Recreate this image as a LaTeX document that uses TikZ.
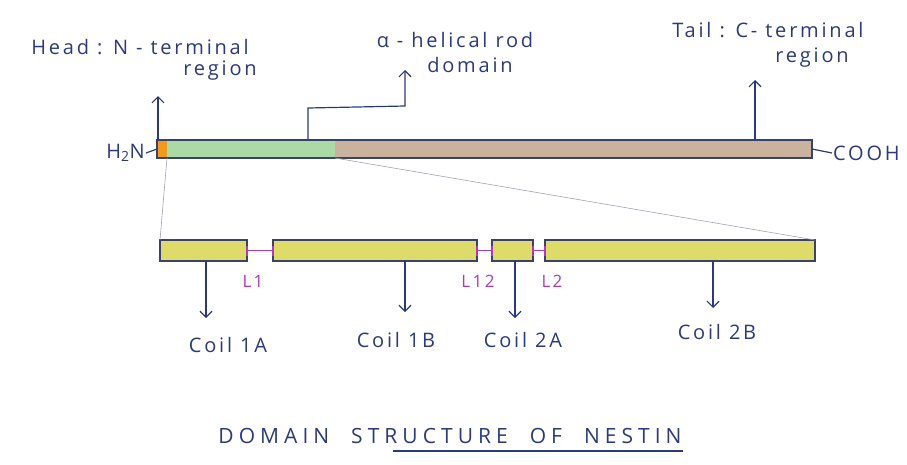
\documentclass[tikz,border=0pt]{standalone}
\usepackage{fontspec}
\setmainfont{Open Sans}
\usetikzlibrary{arrows.meta}

\definecolor{ink}{HTML}{2B3A7C}
\definecolor{edge}{HTML}{3A4268}
\definecolor{headc}{HTML}{F29A1E}
\definecolor{rodc}{HTML}{AADBA6}
\definecolor{tailc}{HTML}{C9B39E}
\definecolor{coilc}{HTML}{DDDC6A}
\definecolor{linkc}{HTML}{B03AB4}
\definecolor{zoomc}{HTML}{A0A4B4}

\newfontfamily\handfont[LetterSpace=14]{Open Sans}
\newfontfamily\titlefont[LetterSpace=24]{Open Sans}

\begin{document}
\begin{tikzpicture}[x=1pt,y=-1pt,
  seg/.style={inner sep=0pt,outer sep=0pt,anchor=north west,minimum height=18pt},
  outline/.style={draw=edge,line width=1.5pt,inner sep=0pt,outer sep=0pt,anchor=north west,minimum height=18pt},
  coil/.style={draw=edge,fill=coilc,line width=1.3pt,inner sep=0pt,outer sep=0pt,anchor=north west,minimum height=21pt},
  link/.style={draw=linkc,line width=1.3pt},
  hand/.style={text=ink,font=\handfont\fontsize{20}{23}\selectfont,inner sep=1pt},
  linklbl/.style={text=linkc,font=\handfont\fontsize{17}{19}\selectfont,inner sep=1pt},
  pointer/.style={draw=ink,line width=1.2pt,-{Straight Barb[length=6pt,width=12pt]}},
  zoomline/.style={draw=zoomc,line width=0.6pt}
]
\useasboundingbox (0,0) rectangle (907,464);

% full-length protein bar: head, rod and tail segments
\node[seg,fill=headc,minimum width=10pt] (head) at (157,140) {};
\node[seg,fill=rodc,minimum width=168pt] (rod) at (167,140) {};
\node[seg,fill=tailc,minimum width=477pt] (tail) at (335,140) {};
\node[outline,minimum width=655pt] (bar) at (157,140) {};

% terminal labels
\node[hand,anchor=east] (nterm) at (146,153) {H\textsubscript{2}N};
\node[hand,anchor=west] (cterm) at (832,153) {COOH};
\draw[draw=ink,line width=1.2pt] (nterm.east) -- (bar.west);
\draw[draw=ink,line width=1.2pt] (bar.east) -- (cterm.west);

% region labels
\node[hand] (headlbl1) at (140,47) {Head : N - terminal};
\node[hand] (headlbl2) at (220,71) {region};
\node[hand] (rodlbl1) at (455,40) {α - helical rod};
\node[hand] (rodlbl2) at (470,65) {domain};
\node[hand] (taillbl1) at (768,30) {Tail : C- terminal};
\node[hand] (taillbl2) at (812,58) {region};

\coordinate (headtip) at (158,96);
\coordinate (rodbend1) at (308,108);
\coordinate (rodbend2) at (405,106);
\coordinate (rodtip) at (405,70);
\coordinate (tailtip) at (755,80);
\draw[pointer] (bar.north west -| headtip) -- (headtip);
\draw[pointer] (bar.north west -| rodbend1) -- (rodbend1) -- (rodbend2) -- (rodtip);
\draw[pointer] (bar.north west -| tailtip) -- (tailtip);

% expanded rod domain: coils and linkers
\node[coil,minimum width=87pt] (c1a) at (160,240) {};
\node[coil,minimum width=204pt] (c1b) at (273,240) {};
\node[coil,minimum width=41pt] (c2a) at (492,240) {};
\node[coil,minimum width=270pt] (c2b) at (545,240) {};
\draw[link] (c1a.east) -- (c1b.west);
\draw[link] (c1b.east) -- (c2a.west);
\draw[link] (c2a.east) -- (c2b.west);
\foreach \e in {c1a.east,c1b.west,c1b.east,c2a.west,c2a.east,c2b.west}
  \draw[link] (\e) ++(0,-5) -- ++(0,10);

\node[linklbl] (l1) at (253,281) {L1};
\node[linklbl] (l12) at (478,281) {L12};
\node[linklbl] (l2) at (552,281) {L2};

% zoom guide lines
\draw[zoomline] (head.south east) -- (c1a.north west);
\draw[zoomline] (rod.south east) -- (c2b.north east);

% coil labels and pointers
\node[hand] (n1a) at (228,345) {Coil 1A};
\node[hand] (n1b) at (396,340) {Coil 1B};
\node[hand] (n2a) at (523,340) {Coil 2A};
\node[hand] (n2b) at (717,332) {Coil 2B};
\coordinate (t1a) at (206,318);
\coordinate (t1b) at (405,312);
\coordinate (t2a) at (515,318);
\coordinate (t2b) at (713,308);
\draw[pointer] (c1a.south -| t1a) -- (t1a);
\draw[pointer] (c1b.south -| t1b) -- (t1b);
\draw[pointer] (c2a.south -| t2a) -- (t2a);
\draw[pointer] (c2b.south -| t2b) -- (t2b);

% title
\node[hand,font=\titlefont\fontsize{21}{24}\selectfont] (title) at (450,436) {DOMAIN\hspace{22pt}STRUCTURE\hspace{22pt}OF\hspace{22pt}NESTIN};
\coordinate (ulstart) at (393,451);
\draw[draw=ink,line width=1.2pt] (ulstart) -- (title.south east |- ulstart);
\end{tikzpicture}
\end{document}
